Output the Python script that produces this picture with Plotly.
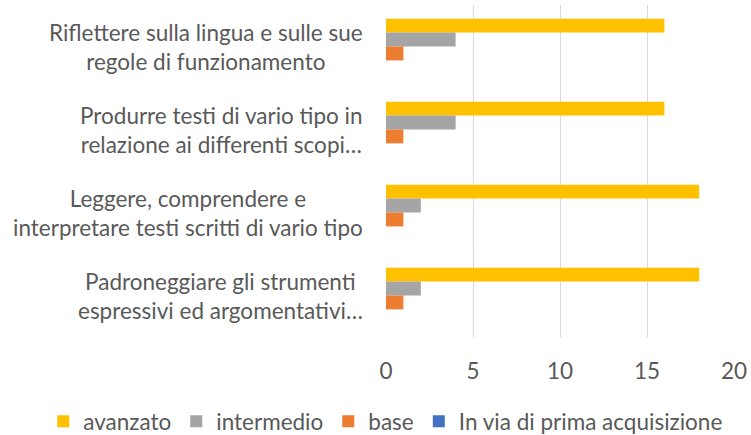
import plotly.graph_objects as go

# ---- data (top to bottom as shown) ----
categories = [
    "Riflettere sulla lingua e sulle sue<br>regole di funzionamento",
    "Produrre testi di vario tipo in<br>relazione ai differenti scopi…",
    "Leggere, comprendere e<br>interpretare testi scritti di vario tipo",
    "Padroneggiare gli strumenti<br>espressivi ed argomentativi…",
]
series_names = ["avanzato", "intermedio", "base", "In via di prima acquisizione"]
avanzato = [16, 16, 18, 18]
intermedio = [4, 4, 2, 2]
base = [1, 1, 1, 1]
in_via = [0, 0, 0, 0]
x_ticks = [0, 5, 10, 15, 20]

series_values = [avanzato, intermedio, base, in_via]
colors = ["#FFC000", "#A5A5A5", "#ED7D31", "#4472C4"]

FONT = "Lato"
TXT = "#595959"
FS = 22.5

fig = go.Figure()
for name, vals, col in zip(series_names, series_values, colors):
    fig.add_trace(go.Bar(
        y=categories, x=vals, name=name, orientation="h",
        marker=dict(color=col, line=dict(width=0)),
    ))

annotations = []
for c in categories:
    annotations.append(dict(
        xref="paper", yref="y", x=0, y=c, xanchor="right", yanchor="middle",
        xshift=-21, text=c, showarrow=False, align="center",
        font=dict(family=FONT, size=FS, color=TXT),
    ))

fig.update_layout(
    width=751, height=435,
    margin=dict(l=386, r=17, t=5, b=98, autoexpand=False),
    paper_bgcolor="white", plot_bgcolor="white",
    barmode="group", bargap=0.33, bargroupgap=0,
    font=dict(family=FONT, size=FS, color=TXT),
    xaxis=dict(range=[0, 20], tickvals=x_ticks, showgrid=True,
               gridcolor="#D9D9D9", gridwidth=1.3, zeroline=False,
               showline=False, ticks="", fixedrange=True,
               ticklabelstandoff=18,
               tickfont=dict(family=FONT, size=FS, color=TXT)),
    yaxis=dict(categoryorder="array", categoryarray=categories,
               autorange="reversed", showticklabels=False, showgrid=False,
               zeroline=False, showline=False, ticks=""),
    legend=dict(orientation="h", xref="paper", yref="paper",
                x=-0.985, xanchor="left", y=-0.19, yanchor="top",
                font=dict(family=FONT, size=FS, color=TXT),
                traceorder="normal", itemwidth=30),
    annotations=annotations,
    showlegend=True,
)

fig.write_html("out.html", config={"displayModeBar": False},
               post_script="document.body.style.margin='0';document.body.style.padding='0';")
